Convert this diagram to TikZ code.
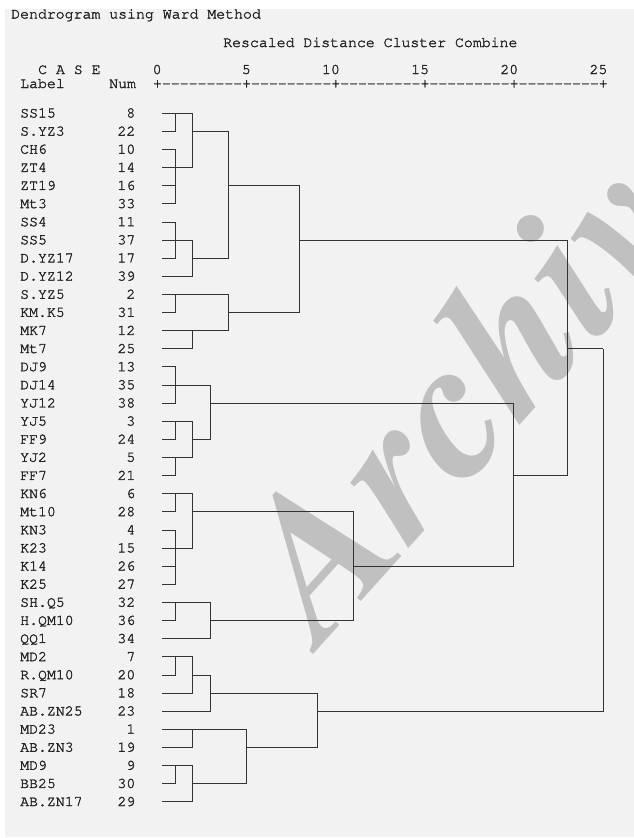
\documentclass[tikz,border=0pt]{standalone}
\usepackage[T1]{fontenc}

\definecolor{panel}{HTML}{F2F2F2}
\definecolor{ink}{HTML}{333333}
\definecolor{wmark}{HTML}{C0C0C0}

\newcommand{\spssfont}{\fontfamily{pcr}\fontsize{14.86}{16}\selectfont}
\newcommand{\wmfont}{\fontfamily{ptm}\bfseries\itshape\fontsize{200}{210}\selectfont}
% slightly heavier strokes for the listing font
\newcommand{\heavyon}{\special{pdf:literal direct 2 Tr 0.3 w}}
\newcommand{\heavyoff}{\special{pdf:literal direct 0 Tr}}
% row and distance positions (in px)
\newcommand{\rpos}[1]{(113.3+18.12*(#1))}
\newcommand{\dpos}[1]{(157.3+17.83*(#1))}
\newcommand{\axseg}{+-{}-{}-{}-{}-{}-{}-{}-{}-{}}

\begin{document}
\begin{tikzpicture}[x=1pt, y=-1pt,
            link/.style={draw=ink, line width=1pt},
            listing/.style={inner sep=0pt, text=black!85, font=\spssfont,
                execute at begin node=\heavyon, execute at end node=\heavyoff},
            header/.style={listing, anchor=base west},
            casename/.style={listing, anchor=base west},
            casenum/.style={listing, anchor=base east},
            ticklab/.style={listing, anchor=base east},
            watermark/.style={anchor=base west, inner sep=0pt, text=wmark, font=\wmfont}
        ]

        % Page and grey panel
        \useasboundingbox (0,0) rectangle (634,838);
        \fill[white] (0,0) rectangle (634,838);
        \fill[panel] (5,9) rectangle (634,837);

        % Watermark behind the tree
        \begin{scope}
            \clip (5,9) rectangle (634,837);
            \node[watermark, rotate=48] (wm) at (322,645) {Archive of SID};
        \end{scope}

        % Headings
        \node[header] (title) at (11,18.5) {Dendrogram using Ward Method};
        \node[header] (subtitle) at (223,47) {Rescaled Distance Cluster Combine};
        \node[header] (casehead) at (38,74) {C A S E};
        \node[header] (labelhead) at (20,88) {Label};
        \node[header] (numhead) at (109,88) {Num};
        \node[header] (axis) at ({\dpos{0}-4.46},88) {\axseg\axseg\axseg\axseg\axseg+};
        \foreach \d in {0,5,...,25}
            \node[ticklab] (tick\d) at ({\dpos{\d}+4.46},74) {\d};

        % Cases and leaf ends
        \foreach \lab/\num [count=\i from 0] in {SS15/8, S.YZ3/22, CH6/10, ZT4/14, ZT19/16, Mt3/33,
                SS4/11, SS5/37, D.YZ17/17, D.YZ12/39, S.YZ5/2, KM.K5/31, MK7/12, Mt7/25,
                DJ9/13, DJ14/35, YJ12/38, YJ5/3, FF9/24, YJ2/5, FF7/21, KN6/6, Mt10/28,
                KN3/4, K23/15, K14/26, K25/27, SH.Q5/32, H.QM10/36, QQ1/34, MD2/7,
                R.QM10/20, SR7/18, AB.ZN25/23, MD23/1, AB.ZN3/19, MD9/9, BB25/30, AB.ZN17/29} {
            \node[casename] (name\i) at (20,{\rpos{\i}+4.2}) {\lab};
            \node[casenum] (num\i) at (135.5,{\rpos{\i}+4.2}) {\num};
            \coordinate (L\i) at (162,{\rpos{\i}});
        }

        % Merge points: (distance, row)
        \foreach \m/\d/\r in {A1/1/0, A2/1/3, A3/2/1, A4/1/7, A5/2/8, A6/4/4,
                B1/1/10, B2/2/12, B3/4/11, AB/8/7,
                C1/1/15, C2/1/17, C3/1/19, C4/2/18, C5/3/16,
                D1/1/21, D2/1/24, D3/2/22, E1/1/27, E2/3/28, DE/11/25,
                CDE/20/20, ABCDE/23/13,
                F1/1/30, F2/2/31, F3/3/32, G1/2/34, G2/1/36, G3/2/37, G4/5/35,
                FG/9/33, root/25/13}
            \coordinate (\m) at ({\dpos{\d}},{\rpos{\r}});

        % Tree links, child to parent
        \foreach \c/\p in {L0/A1, L1/A1, L2/A2, L3/A2, L4/A2, L5/A2, A1/A3, A2/A3,
                L6/A4, L7/A4, L8/A4, A4/A5, L9/A5, A3/A6, A5/A6,
                L10/B1, L11/B1, L12/B2, L13/B2, B1/B3, B2/B3, A6/AB, B3/AB,
                L14/C1, L15/C1, L16/C1, L17/C2, L18/C2, L19/C3, L20/C3, C2/C4, C3/C4,
                C1/C5, C4/C5,
                L21/D1, L22/D1, L23/D2, L24/D2, L25/D2, L26/D2, D1/D3, D2/D3,
                L27/E1, L28/E1, E1/E2, L29/E2, D3/DE, E2/DE, C5/CDE, DE/CDE,
                AB/ABCDE, CDE/ABCDE,
                L30/F1, L31/F1, F1/F2, L32/F2, F2/F3, L33/F3,
                L34/G1, L35/G1, L36/G2, L37/G2, G2/G3, L38/G3, G1/G4, G3/G4,
                F3/FG, G4/FG, ABCDE/root, FG/root}
            \draw[link] (\c) -| (\p);

    \end{tikzpicture}
\end{document}
